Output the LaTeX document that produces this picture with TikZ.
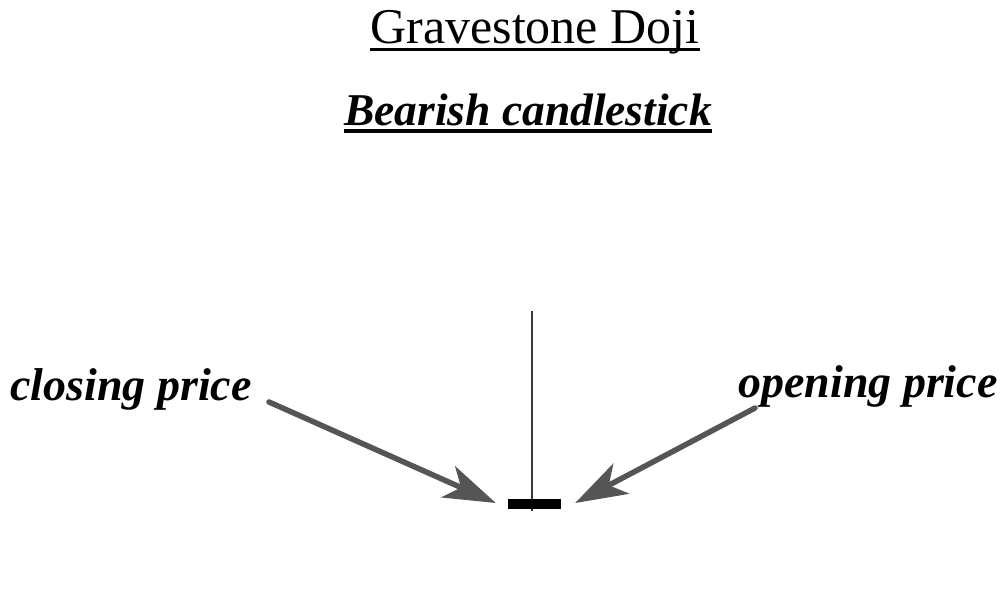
\documentclass[tikz,border=0pt]{standalone}
\usepackage{fontspec}
\setmainfont{Liberation Serif}
\usetikzlibrary{arrows.meta}
\definecolor{arrgray}{HTML}{555555}
\definecolor{wickgray}{HTML}{3A3A3A}
\tikzset{
  titletext/.style={inner sep=0pt, anchor=base, font=\fontsize{50}{56}\selectfont},
  subtext/.style={inner sep=0pt, anchor=base, font=\fontsize{45.5}{50}\selectfont\bfseries\itshape},
  labeltext/.style={inner sep=0pt, anchor=base west, font=\fontsize{46}{52}\selectfont\bfseries\itshape},
  arr/.style={draw=arrgray, line width=5.5pt, line cap=round, -{Stealth[length=52pt,width=34pt,inset=14pt]}},
  bodybox/.style={fill=black, draw=none, minimum width=53pt, minimum height=10pt, inner sep=0pt}
}
\begin{document}
\begin{tikzpicture}[x=1pt,y=-1pt]
\useasboundingbox (0,0) rectangle (1000,594);
\fill[white] (0,0) rectangle (1000,594);
% titles
\node[titletext] (t1) at (535,44) {Gravestone Doji};
\draw[line width=3pt] ([yshift=-6pt]t1.base west) -- ([yshift=-6pt]t1.base east);
\node[subtext] (t2) at (528,125) {Bearish candlestick};
\draw[line width=3.5pt] ([yshift=-6pt]t2.base west) -- ([yshift=-6pt]t2.base east);
% labels
\node[labeltext] (cl) at (10,400) {closing price};
\node[labeltext] (op) at (738,397) {opening price};
% candlestick
\coordinate (wtop) at (532,311);
\coordinate (wbot) at (532,511);
\draw[wickgray, line width=2pt] (wtop) -- (wbot);
\node[bodybox] (body) at (534.5,504) {};
% arrows
\coordinate (cs) at (269,402);
\coordinate (os) at (755,408);
\draw[arr] (cs) -- ([xshift=-12pt,yshift=1pt]body.west);
\draw[arr] (os) -- ([xshift=14pt,yshift=1pt]body.east);
\end{tikzpicture}
\end{document}
